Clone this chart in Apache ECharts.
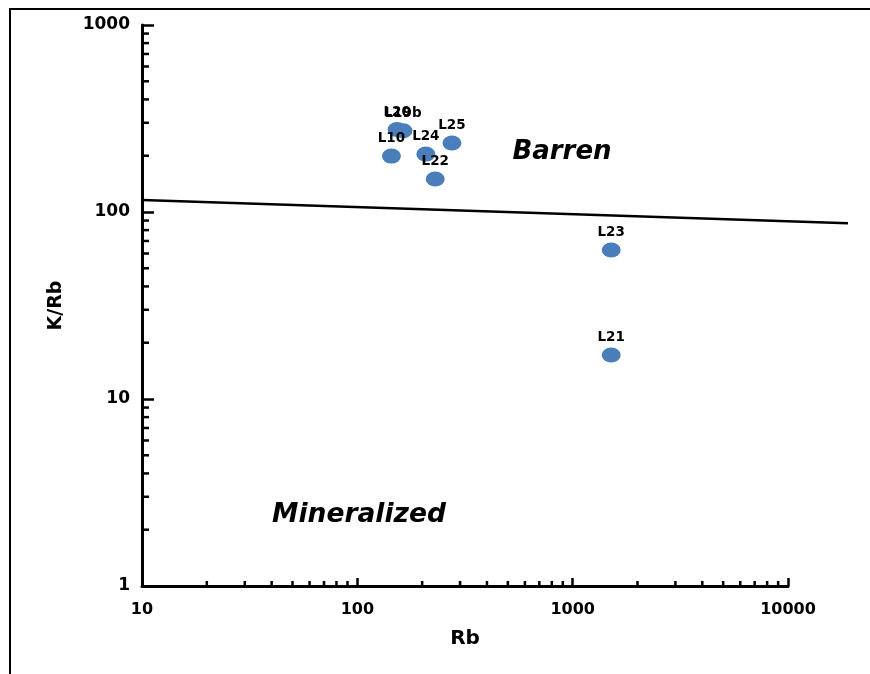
<!DOCTYPE html>
<html>
<head>
<meta charset="utf-8">
<script src="https://cdn.jsdelivr.net/npm/echarts@6/dist/echarts.min.js"></script>
<style>
  html, body { margin: 0; padding: 0; background: #fff; }
  #chart { width: 870px; height: 674px; }
</style>
</head>
<body>
<div id="chart"></div>
<script>
// samples: Rb (ppm) vs K/Rb
var sampleNames = ['L10', 'L20', 'L19b', 'L24', 'L25', 'L22', 'L23', 'L21'];
var rbValues    = [144, 153, 163, 208, 275, 230, 1510, 1510];
var kRbValues   = [199, 276, 272, 204, 234, 150, 62.6, 17.2];

// boundary line between barren and mineralized fields
var boundaryRb  = [10, 19000];
var boundaryKRb = [116, 87];

// minor tick positions (log axes)
var xMinorTicks = [20, 30, 40, 50, 60, 70, 80, 90,
                   200, 300, 400, 500, 600, 700, 800, 900,
                   2000, 3000, 4000, 5000, 6000, 7000, 8000, 9000];
var yMinorTicks = [2, 3, 4, 5, 6, 7, 8, 9,
                   20, 30, 40, 50, 60, 70, 80, 90,
                   200, 300, 400, 500, 600, 700, 800, 900];

var chart = echarts.init(document.getElementById('chart'));
var font = 'DejaVu Sans';

var points = rbValues.map(function (rb, i) {
    return { value: [rb, kRbValues[i]], name: sampleNames[i] };
});
var boundary = boundaryRb.map(function (rb, i) { return [rb, boundaryKRb[i]]; });

function plain(v) { return String(Math.round(v)); }

var option = {
    animation: false,
    backgroundColor: '#fff',
    grid: [
        { left: 142, right: 82, top: 25, bottom: 88 },
        // same scale, wider: lets the boundary run past the last tick
        { left: 142, right: 22, top: 25, bottom: 88 }
    ],
    xAxis: [
        {
            type: 'log',
            logBase: 10,
            min: 10,
            max: 10000,
            name: 'Rb',
            nameLocation: 'middle',
            nameGap: 43,
            nameTextStyle: { fontFamily: font, fontWeight: 'bold', fontSize: 20, color: '#000' },
            axisLine: { lineStyle: { color: '#000', width: 3 } },
            axisTick: { inside: true, length: 8, lineStyle: { color: '#000', width: 2.5 } },
            axisLabel: { fontFamily: font, fontWeight: 'bold', fontSize: 16, color: '#000', margin: 16, formatter: plain },
            splitLine: { show: false }
        },
        {
            type: 'log', gridIndex: 1, logBase: 10, min: 10, max: 19000, show: false
        }
    ],
    yAxis: [
        {
            type: 'log',
            logBase: 10,
            min: 1,
            max: 1000,
            name: 'K/Rb',
            nameLocation: 'middle',
            nameGap: 76,
            nameRotate: 90,
            nameTextStyle: { fontFamily: font, fontWeight: 'bold', fontSize: 19, color: '#000' },
            axisLine: { lineStyle: { color: '#000', width: 3 } },
            axisTick: { inside: true, length: 12, lineStyle: { color: '#000', width: 2.5 } },
            axisLabel: { fontFamily: font, fontWeight: 'bold', fontSize: 17, color: '#000', margin: 12, formatter: plain },
            splitLine: { show: false }
        },
        {
            type: 'log', gridIndex: 1, logBase: 10, min: 1, max: 1000, show: false
        }
    ],
    graphic: [
        {
            type: 'rect',
            shape: { x: 10, y: 9, width: 900, height: 700 },
            style: { fill: 'none', stroke: '#000', lineWidth: 2 },
            silent: true
        },
        {
            type: 'text', x: 562, y: 152,
            style: { text: 'Barren', fontFamily: font, fontWeight: 'bold', fontStyle: 'italic',
                     fontSize: 26, fill: '#000', align: 'center', verticalAlign: 'middle' }
        },
        {
            type: 'text', x: 359, y: 515,
            style: { text: 'Mineralized', fontFamily: font, fontWeight: 'bold', fontStyle: 'italic',
                     fontSize: 26.5, fill: '#000', align: 'center', verticalAlign: 'middle' }
        }
    ],
    series: [
        {
            type: 'custom',
            silent: true,
            clip: false,
            data: xMinorTicks.map(function (v) { return [v]; }),
            renderItem: function (params, api) {
                var p = api.coord([api.value(0), 1]);
                return {
                    type: 'line',
                    shape: { x1: p[0], y1: p[1], x2: p[0], y2: p[1] - 5 },
                    style: { stroke: '#000', lineWidth: 2.5 }
                };
            }
        },
        {
            type: 'custom',
            silent: true,
            clip: false,
            data: yMinorTicks.map(function (v) { return [10, v]; }),
            renderItem: function (params, api) {
                var p = api.coord([10, api.value(1)]);
                return {
                    type: 'line',
                    shape: { x1: p[0], y1: p[1], x2: p[0] + 7, y2: p[1] },
                    style: { stroke: '#000', lineWidth: 2.5 }
                };
            }
        },
        {
            type: 'line',
            xAxisIndex: 1,
            yAxisIndex: 1,
            data: boundary,
            symbol: 'none',
            silent: true,
            lineStyle: { color: '#000', width: 2.5 }
        },
        {
            type: 'scatter',
            data: points,
            symbol: 'circle',
            symbolSize: [19, 15],
            itemStyle: { color: '#4a7ebb', opacity: 1 },
            label: {
                show: true,
                position: 'top',
                distance: 3,
                formatter: '{b}',
                fontFamily: font,
                fontWeight: 'bold',
                fontSize: 13.5,
                color: '#000'
            },
            labelLayout: { hideOverlap: false }
        }
    ]
};

chart.setOption(option);
</script>
</body>
</html>
